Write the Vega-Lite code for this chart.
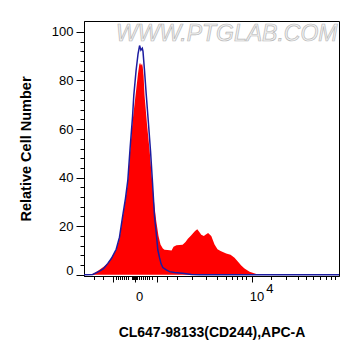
{
  "$schema": "https://vega.github.io/schema/vega-lite/v6.json",
  "autosize": {"type": "none"},
  "padding": {"left": 84, "top": 21, "right": 22, "bottom": 80},
  "width": 255,
  "height": 255,
  "background": "white",
  "config": {
    "view": {"stroke": "black", "strokeWidth": 1},
    "axis": {
      "domainColor": "black",
      "tickColor": "black",
      "labelColor": "black",
      "titleColor": "black",
      "labelFont": "Liberation Sans",
      "titleFont": "Liberation Sans",
      "labelFontSize": 13,
      "titleFontWeight": "bold",
      "labelOverlap": false,
      "labelFlush": false,
      "grid": false
    }
  },
  "datasets": {
    "sample": [
      {"x": -43, "y": 0.05}, {"x": -36.9, "y": 0.1}, {"x": -33, "y": 1.0}, {"x": -29.8, "y": 2.1},
      {"x": -26, "y": 3.4}, {"x": -22.7, "y": 4.9}, {"x": -19.6, "y": 7}, {"x": -15.6, "y": 10.3},
      {"x": -12.8, "y": 15}, {"x": -10.0, "y": 24}, {"x": -7.7, "y": 31}, {"x": -5.7, "y": 38},
      {"x": -3.7, "y": 51.4}, {"x": -1.7, "y": 63}, {"x": 0.9, "y": 74}, {"x": 3.0, "y": 83},
      {"x": 4.0, "y": 86.5}, {"x": 4.7, "y": 87.3}, {"x": 5.5, "y": 86.2}, {"x": 6.4, "y": 87},
      {"x": 7.0, "y": 85.5}, {"x": 7.7, "y": 82}, {"x": 8.5, "y": 74}, {"x": 10.6, "y": 62},
      {"x": 12.8, "y": 51.4}, {"x": 15.1, "y": 37.9}, {"x": 17.0, "y": 28}, {"x": 18.5, "y": 22},
      {"x": 20.4, "y": 16}, {"x": 22.1, "y": 12.5}, {"x": 24.1, "y": 10.8}, {"x": 25.5, "y": 10.3},
      {"x": 28.1, "y": 10.2}, {"x": 31.5, "y": 10.0}, {"x": 33.2, "y": 11.5}, {"x": 35.7, "y": 12.2},
      {"x": 40.9, "y": 12.4}, {"x": 43.4, "y": 13.5}, {"x": 45.4, "y": 14.8}, {"x": 47.7, "y": 16},
      {"x": 49.6, "y": 17}, {"x": 51.5, "y": 18}, {"x": 53.4, "y": 18.8}, {"x": 55.3, "y": 17.5},
      {"x": 56.8, "y": 16.5}, {"x": 59.0, "y": 16}, {"x": 60.4, "y": 16.5}, {"x": 62.6, "y": 17.2},
      {"x": 65.3, "y": 16}, {"x": 68.1, "y": 12.5}, {"x": 70.6, "y": 10.5}, {"x": 73.2, "y": 9.8},
      {"x": 78.0, "y": 8.8}, {"x": 81.7, "y": 8.2}, {"x": 85.1, "y": 7}, {"x": 87.9, "y": 5.5},
      {"x": 90.8, "y": 3.8}, {"x": 93.6, "y": 2.6}, {"x": 97.9, "y": 1.2}, {"x": 103.6, "y": 0.3},
      {"x": 108.1, "y": 0.1}, {"x": 174, "y": 0.1}
    ],
    "control": [
      {"x": -43, "y": 0.05}, {"x": -35.5, "y": 0.1}, {"x": -29.8, "y": 1.5}, {"x": -26.4, "y": 2.5},
      {"x": -22.7, "y": 4.7}, {"x": -19.6, "y": 6.8}, {"x": -15.6, "y": 10.5}, {"x": -12.8, "y": 15.5},
      {"x": -10.0, "y": 24.5}, {"x": -7.7, "y": 31.5}, {"x": -5.7, "y": 39}, {"x": -3.8, "y": 52},
      {"x": -1.7, "y": 65}, {"x": -0.6, "y": 74}, {"x": 1.3, "y": 84}, {"x": 3.0, "y": 91},
      {"x": 4.3, "y": 94.4}, {"x": 5.4, "y": 92.5}, {"x": 6.6, "y": 93.3}, {"x": 7.2, "y": 92},
      {"x": 8.5, "y": 84}, {"x": 10.0, "y": 74}, {"x": 11.9, "y": 62}, {"x": 13.6, "y": 51},
      {"x": 15.3, "y": 38}, {"x": 17.0, "y": 24}, {"x": 18.5, "y": 17}, {"x": 19.8, "y": 10.3},
      {"x": 21.3, "y": 7}, {"x": 22.6, "y": 4.5}, {"x": 24.1, "y": 3.0}, {"x": 27.0, "y": 2.0},
      {"x": 29.8, "y": 1.3}, {"x": 34.0, "y": 0.9}, {"x": 40.9, "y": 0.6}, {"x": 48.3, "y": 0.1},
      {"x": 55.3, "y": 0.05}, {"x": 174, "y": 0.05}
    ],
    "mark": [{"label": "WWW.PTGLAB.COM"}]
  },
  "resolve": {"axis": {"x": "independent", "y": "independent"}},
  "layer": [
    {
      "data": {"name": "sample"},
      "mark": {"type": "area", "color": "#ff0000", "clip": true, "interpolate": "linear"},
      "encoding": {
        "x": {
          "field": "x", "type": "quantitative",
          "scale": {"domain": [-43, 174], "nice": false, "zero": false},
          "axis": {
            "orient": "bottom",
            "title": "CL647-98133(CD244),APC-A",
            "titleFontSize": 14,
            "titlePadding": 22,
            "values": [-18.4, 0, 19, 100],
            "labelExpr": "datum.value === 0 ? '0' : (datum.value === 100 ? '10' : '')",
            "labelPadding": 8,
            "labelOffset": 4.5,
            "tickSize": 6
          }
        },
        "y": {
          "field": "y", "type": "quantitative",
          "scale": {"domain": [-0.5, 104.5], "nice": false, "zero": false},
          "axis": {
            "orient": "left",
            "title": "Relative Cell Number",
            "titleFontSize": 14.5,
            "titlePadding": 17.5,
            "values": [0, 20, 40, 60, 80, 100],
            "labelPadding": 3,
            "labelOffset": {"condition": {"test": "datum.value === 0", "value": -4}, "value": 0},
            "tickSize": 8
          }
        }
      }
    },
    {
      "data": {"name": "control"},
      "mark": {"type": "line", "color": "#1c1ca0", "strokeWidth": 1.5, "clip": true},
      "encoding": {
        "x": {
          "field": "x", "type": "quantitative",
          "axis": {
            "orient": "bottom",
            "title": null,
            "labels": false,
            "domain": false,
            "tickSize": 3.5,
            "values": [-34.8, -26.9, -16.1, -14.4, -12.7, -11.0, -9.3, -7.6, -5.4, -1.8, -1.3, -0.8, -0.4, 0.4, 0.8, 1.3, 1.8, 3.7, 5.4, 7.1, 8.8, 10.5, 12.7, 15.0, 28.0, 36.5, 49.3, 61.2, 70.1, 77.9, 82.8, 87.3, 91.2, 94.6, 116.4, 129.1, 138.9, 146.2, 152.1, 157.6, 162.7, 167.0, 170.8]
          }
        },
        "y": {
          "field": "y", "type": "quantitative",
          "axis": {
            "orient": "left",
            "title": null,
            "labels": false,
            "domain": false,
            "tickSize": 4,
            "values": [4, 8, 12, 16, 24, 28, 32, 36, 44, 48, 52, 56, 64, 68, 72, 76, 84, 88, 92, 96]
          }
        }
      }
    },
    {
      "data": {"name": "mark"},
      "mark": {"type": "text", "font": "Liberation Sans", "fontSize": 23, "fontStyle": "italic", "fill": "#f2f2f2", "stroke": "#b8b8b8", "strokeWidth": 0.7, "align": "center", "baseline": "middle"},
      "encoding": {
        "x": {
          "datum": 78.5, "type": "quantitative",
          "axis": {
            "orient": "bottom",
            "title": null,
            "domain": false,
            "ticks": false,
            "tickSize": 0,
            "values": [114.7],
            "labelExpr": "'4'",
            "labelPadding": 6
          }
        },
        "y": {"datum": 99.2, "type": "quantitative", "axis": null},
        "text": {"field": "label"}
      }
    }
  ]
}
